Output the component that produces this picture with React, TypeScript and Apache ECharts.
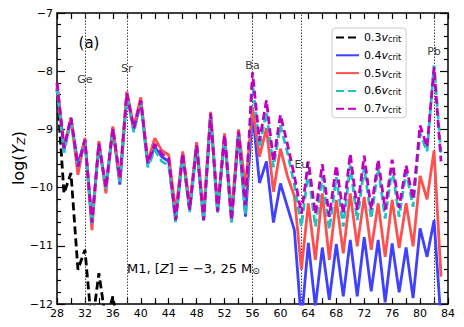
import React, { useEffect, useRef } from "react";
import * as echarts from "echarts";

const Z = [28, 29, 30, 31, 32, 33, 34, 35, 36, 37, 38, 39, 40, 41, 42, 43, 44, 45, 46, 47, 48, 49, 50, 51, 52, 53, 54, 55,
  56, 57, 58, 59, 60, 61, 62, 63, 64, 65, 66, 67, 68, 69, 70, 71, 72, 73, 74, 75, 76, 77, 78, 79, 80, 81, 82, 83];

const v03 = [-8.3, -10.1, -9.75, -11.41, -11.07, -12.4, -11.47, -12.3, -11.87, -12.6];

const v04 = [-8.25, -9.35, -8.82, -9.6, -9.18, -10.6, -9.25, -10.0, -8.98, -9.95, -8.4, -9.0, -8.52, -9.6, -9.3, -9.47, -9.55, -10.56,
  -9.42, -10.38, -9.28, -10.56, -8.75, -10.42, -9.12, -10.58, -9.06, -10.5, -8.7, -9.92, -9.55, -10.6, -9.93, -10.33, -10.73, -12.3,
  -10.95, -12.05, -11.03, -11.93, -10.97, -11.87, -10.9, -11.87, -10.85, -11.78, -10.9, -11.97, -10.96, -11.8, -11.03, -11.9, -10.7,
  -11.19, -10.56, -12.3];

const v05 = [-8.2, -9.3, -8.8, -9.78, -9.15, -10.73, -9.2, -10.1, -8.95, -9.88, -8.35, -8.95, -8.45, -9.55, -9.15, -9.36, -9.44, -10.42,
  -9.38, -10.3, -9.22, -10.45, -8.7, -10.35, -9.07, -10.45, -9.0, -10.0, -8.62, -9.47, -8.98, -10.07, -9.33, -9.8, -10.15, -11.41,
  -10.27, -11.24, -10.1, -11.24, -10.21, -11.13, -10.1, -11.01, -10.16, -11.07, -10.27, -11.19, -10.21, -11.04, -10.27, -11.01, -9.8,
  -10.2, -9.36, -11.53];

const v06 = [-8.3, -9.4, -8.85, -9.65, -9.22, -10.62, -9.28, -10.02, -9.02, -9.9, -8.42, -9.05, -8.55, -9.65, -9.35, -9.55, -9.62, -10.6,
  -9.45, -10.42, -9.3, -10.6, -8.77, -10.45, -9.13, -10.6, -9.07, -10.45, -8.2, -9.3, -8.7, -9.65, -8.93, -9.4, -9.95, -10.67,
  -9.72, -10.67, -9.8, -10.72, -9.82, -10.67, -9.62, -10.56, -9.65, -10.53, -9.67, -10.53, -9.67, -10.5, -9.73, -10.33, -9.07,
  -9.38, -7.9, -9.4];

const v07 = [-8.2, -9.32, -8.8, -9.64, -9.18, -10.6, -9.24, -10.0, -8.98, -9.84, -8.38, -8.98, -8.5, -9.58, -9.25, -9.42, -9.5, -10.56,
  -9.41, -10.38, -9.27, -10.56, -8.73, -10.41, -9.1, -10.56, -9.04, -10.3, -8.02, -9.2, -8.5, -9.55, -8.75, -9.25, -9.8, -10.45,
  -9.55, -10.45, -9.6, -10.5, -9.62, -10.45, -9.42, -10.38, -9.45, -10.38, -9.52, -10.38, -9.52, -10.35, -9.62, -10.2, -8.93,
  -9.3, -7.93, -9.55];

const seriesNames = ["0.3", "0.4", "0.5", "0.6", "0.7"];
const seriesColors = ["#000000", "#4040ff", "#ff5050", "#22c0c0", "#c000c0"];

const elemNames = ["Ge", "Sr", "Ba", "Eu", "Pb"];
const elemZ = [32, 38, 56, 63, 82];
const elemLabelY = [-8.14, -7.95, -7.9, -9.6, -7.67];

const xTicks = [28, 32, 36, 40, 44, 48, 52, 56, 60, 64, 68, 72, 76, 80, 84];
const yTicks = [-12, -11, -10, -9, -8, -7];

const FONT = "DejaVu Sans";

export default function App() {
  const ref = useRef<HTMLDivElement>(null);
  useEffect(() => {
    if (!ref.current) return;
    const chart = echarts.init(ref.current, null, { renderer: "svg" });
    const values = [v03, v04, v05, v06, v07];
    const dashed = [true, false, false, true, true];
    const pair = (arr: number[]) => arr.map((v, i) => [Z[i], v]);

    const baseX = {
      type: "value",
      min: xTicks[0],
      max: xTicks[xTicks.length - 1],
      interval: 4,
      axisLine: { show: true, onZero: false, lineStyle: { color: "#000", width: 1.5 } },
      axisTick: { show: true, inside: true, length: 6, lineStyle: { color: "#000", width: 1.2 } },
      minorTick: { show: true, splitNumber: 2, length: 6, lineStyle: { color: "#000", width: 1.2 } },
      splitLine: { show: false },
      minorSplitLine: { show: false },
    };
    const baseY = {
      type: "value",
      min: yTicks[0],
      max: yTicks[yTicks.length - 1],
      interval: 1,
      axisLine: { show: true, onZero: false, lineStyle: { color: "#000", width: 1.5 } },
      axisTick: { show: true, inside: true, length: 8, lineStyle: { color: "#000", width: 1.2 } },
      minorTick: { show: true, splitNumber: 5, length: 4, lineStyle: { color: "#000", width: 1.2 } },
      splitLine: { show: false },
      minorSplitLine: { show: false },
    };

    const lineSeries = values.map((arr, k) => ({
      type: "line",
      name: seriesNames[k],
      data: pair(arr),
      xAxisIndex: 0,
      yAxisIndex: 0,
      symbol: "none",
      showSymbol: false,
      connectNulls: false,
      clip: true,
      z: 3 + k,
      lineStyle: {
        color: seriesColors[k],
        width: 2.8,
        type: dashed[k] ? [8, 4] : "solid",
      },
      itemStyle: { color: seriesColors[k] },
      ...(k === 0
        ? {
            markLine: {
              silent: true,
              symbol: "none",
              label: { show: false },
              lineStyle: { type: [1.5, 1.5], color: "#444", width: 1 },
              data: elemZ.map((x) => ({ xAxis: x })),
              z: 1,
            },
          }
        : {}),
    }));

    const labelSeries = {
      type: "scatter",
      name: "elements",
      xAxisIndex: 0,
      yAxisIndex: 0,
      symbolSize: 1,
      itemStyle: { color: "rgba(0,0,0,0)" },
      z: 10,
      data: elemNames.map((n, i) => ({ name: n, value: [elemZ[i], elemLabelY[i]] })),
      label: {
        show: true,
        position: "inside",
        formatter: "{b}",
        color: "#000",
        fontSize: 11,
        fontFamily: FONT,
      },
    };

    const fmtMinus = (v: number) => (v < 0 ? "\u2212" + Math.abs(v) : String(v));

    chart.setOption({
      animation: false,
      backgroundColor: "#fff",
      textStyle: { fontFamily: FONT },
      grid: { left: 57, right: 16, top: 13, bottom: 23, containLabel: false },
      xAxis: [
        {
          ...baseX,
          position: "bottom",
          axisLabel: { color: "#000", fontSize: 11, fontFamily: FONT, margin: 4 },
        },
        { ...baseX, position: "top", axisLabel: { show: false } },
      ],
      yAxis: [
        {
          ...baseY,
          position: "left",
          axisLabel: { color: "#000", fontSize: 11, fontFamily: FONT, margin: 4, formatter: fmtMinus },
        },
        { ...baseY, position: "right", axisLabel: { show: false } },
      ],
      legend: {
        orient: "vertical",
        left: 332,
        top: 28,
        data: seriesNames,
        itemWidth: 23,
        itemHeight: 10,
        itemGap: 6.3,
        itemStyle: { opacity: 0 },
        backgroundColor: "#fff",
        borderColor: "#cccccc",
        borderWidth: 1,
        borderRadius: 3,
        padding: [4, 5, 3, 3],
        formatter: (name: string) => `{n|${name}}{v|v}{s|crit}`,
        textStyle: {
          color: "#000",
          fontFamily: FONT,
          fontSize: 11,
          rich: {
            n: { fontSize: 11, fontFamily: FONT, color: "#000" },
            v: { fontSize: 11, fontFamily: FONT, fontStyle: "italic", color: "#000" },
            s: { fontSize: 8, fontFamily: FONT, color: "#000", verticalAlign: "bottom", padding: [4, 0, 0, 0] },
          },
        },
      },
      graphic: [
        {
          type: "text",
          x: 89,
          y: 43,
          style: { text: "(a)", fill: "#000", font: `15px "${FONT}"`, align: "center", verticalAlign: "middle" },
        },
        {
          type: "text",
          x: 127,
          y: 268,
          style: {
            text: "{a|M1, [}{i|Z}{a|] = \u22123, 25 M}{s|\u2299}",
            fill: "#000",
            align: "left",
            verticalAlign: "middle",
            rich: {
              a: { fontSize: 13, fontFamily: FONT, fill: "#000" },
              i: { fontSize: 13, fontFamily: FONT, fontStyle: "italic", fill: "#000" },
              s: { fontSize: 9, fontFamily: FONT, fill: "#000", verticalAlign: "bottom", padding: [5, 0, 0, 0] },
            },
          },
        },
        {
          type: "text",
          x: 18,
          y: 158,
          rotation: Math.PI / 2,
          style: {
            text: "{a|log(}{i|Y}{s|Z}{a|)}",
            fill: "#000",
            align: "center",
            verticalAlign: "middle",
            rich: {
              a: { fontSize: 16, fontFamily: FONT, fill: "#000" },
              i: { fontSize: 16, fontFamily: FONT, fontStyle: "italic", fill: "#000" },
              s: { fontSize: 11, fontFamily: FONT, fontStyle: "italic", fill: "#000", verticalAlign: "bottom", padding: [6, 0, 0, 0] },
            },
          },
        },
      ],
      series: [...lineSeries, labelSeries],
    });
    return () => chart.dispose();
  }, []);
  return <div ref={ref} style={{ position: "absolute", left: 0, top: 0, width: 464, height: 327 }} />;
}
